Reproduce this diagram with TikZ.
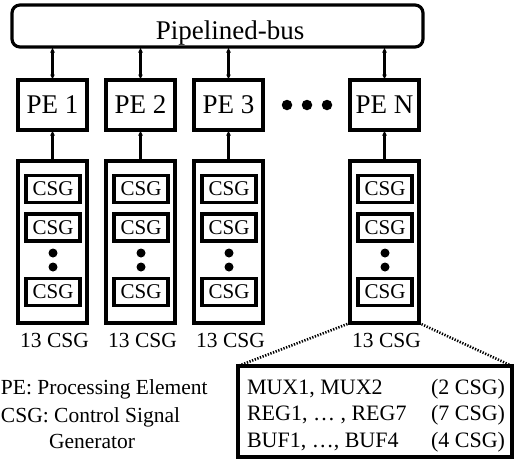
\documentclass[tikz,border=0pt]{standalone}
\usepackage{fontspec}
\setmainfont{Liberation Serif}
\usetikzlibrary{arrows.meta}
\begin{document}
\begin{tikzpicture}[x=1pt,y=-1pt,
  every node/.style={inner sep=0pt, outer sep=0pt},
  bigtxt/.style={font=\fontsize{27}{30}\selectfont},
  midtxt/.style={font=\fontsize{21.5}{24}\selectfont},
  smalltxt/.style={font=\fontsize{21}{24}\selectfont},
  infotxt/.style={font=\fontsize{22}{25}\selectfont},
  busbox/.style={draw, line width=3.2pt, rounded corners=8pt},
  pebox/.style={draw, line width=3.2pt, minimum width=69pt, minimum height=50pt, anchor=north west, bigtxt},
  colbox/.style={draw, line width=3.2pt, minimum width=69pt, minimum height=162pt, anchor=north west},
  csgbox/.style={draw, line width=3.2pt, minimum width=54pt, minimum height=27pt, smalltxt},
  link/.style={line width=2.3pt},
  biarrow/.style={link, {Latex[length=5.5pt,width=5pt]}-{Latex[length=5.5pt,width=5pt]}},
  uparrow/.style={link, -{Latex[length=5.5pt,width=5pt]}},
  zoomline/.style={line width=2.6pt, dash pattern=on 1.3pt off 1.5pt},
  blob/.style={fill, circle, minimum size=9pt}
]
\useasboundingbox (0,0) rectangle (514,458);
\clip (0,0) rectangle (514,458);

% shared bus
\node[busbox, minimum width=411pt, minimum height=42pt, anchor=north west] (bus) at (12,5) {};
\node[bigtxt, anchor=base] (bustxt) at (230,39) {Pipelined-bus};

% processing elements
\node[pebox] (pe1) at (18,80) {PE 1};
\node[pebox] (pe2) at (106,80) {PE 2};
\node[pebox] (pe3) at (194,80) {PE 3};
\node[pebox] (peN) at (350,80) {PE N};

% ellipsis between PE 3 and PE N
\node[blob, minimum size=10.5pt] (d1) at (287,105) {};
\node[blob, minimum size=10.5pt] (d2) at (307,105) {};
\node[blob, minimum size=10.5pt] (d3) at (327,105) {};

% CSG columns
\foreach \n/\x in {1/18, 2/106, 3/194, N/350}{
  \node[colbox] (col\n) at (\x,161) {};
  \node[csgbox] (csg\n a) at ([xshift=0.5pt]col\n.north |- 0,189) {CSG};
  \node[csgbox] (csg\n b) at ([xshift=0.5pt]col\n.north |- 0,227.5) {CSG};
  \node[blob, minimum size=9pt] (dot\n a) at ([xshift=0.5pt]col\n.north |- 0,253) {};
  \node[blob, minimum size=9pt] (dot\n b) at ([xshift=0.5pt]col\n.north |- 0,267) {};
  \node[csgbox] (csg\n z) at ([xshift=0.5pt]col\n.north |- 0,292) {CSG};
  \node[midtxt, anchor=base] (cnt\n) at ([xshift=2pt]col\n.north |- 0,347) {13 CSG};
}

% bus <-> PE and CSG -> PE links
\foreach \n in {1,2,3,N}{
  \draw[biarrow] (pe\n.north) -- (pe\n.north |- bus.south);
  \draw[uparrow] (col\n.north) -- (pe\n.south);
}

% legend
\node[midtxt, anchor=base west] (leg1) at (1,394) {PE: Processing Element};
\node[midtxt, anchor=base west] (leg2) at (1,422) {CSG: Control Signal};
\node[midtxt, anchor=base west] (leg3) at (49,448) {Generator};

% detail of the 13 CSGs
\node[draw, line width=3.2pt, minimum width=274pt, minimum height=91pt, anchor=north west] (info) at (238,366) {};
\draw[zoomline] (colN.south west) -- (info.north west);
\draw[zoomline] (colN.south east) -- (info.north east);

\node[infotxt, anchor=base west] (m1) at (247,394) {MUX1, MUX2};
\node[infotxt, anchor=base west] (m2) at (247,420) {REG1, \dots\ , REG7};
\node[infotxt, anchor=base west] (m3) at (247,447) {BUF1, \dots, BUF4};
\node[infotxt, anchor=base east] (n1) at (505,394) {(2 CSG)};
\node[infotxt, anchor=base east] (n2) at (505,420) {(7 CSG)};
\node[infotxt, anchor=base east] (n3) at (505,447) {(4 CSG)};
\end{tikzpicture}
\end{document}
